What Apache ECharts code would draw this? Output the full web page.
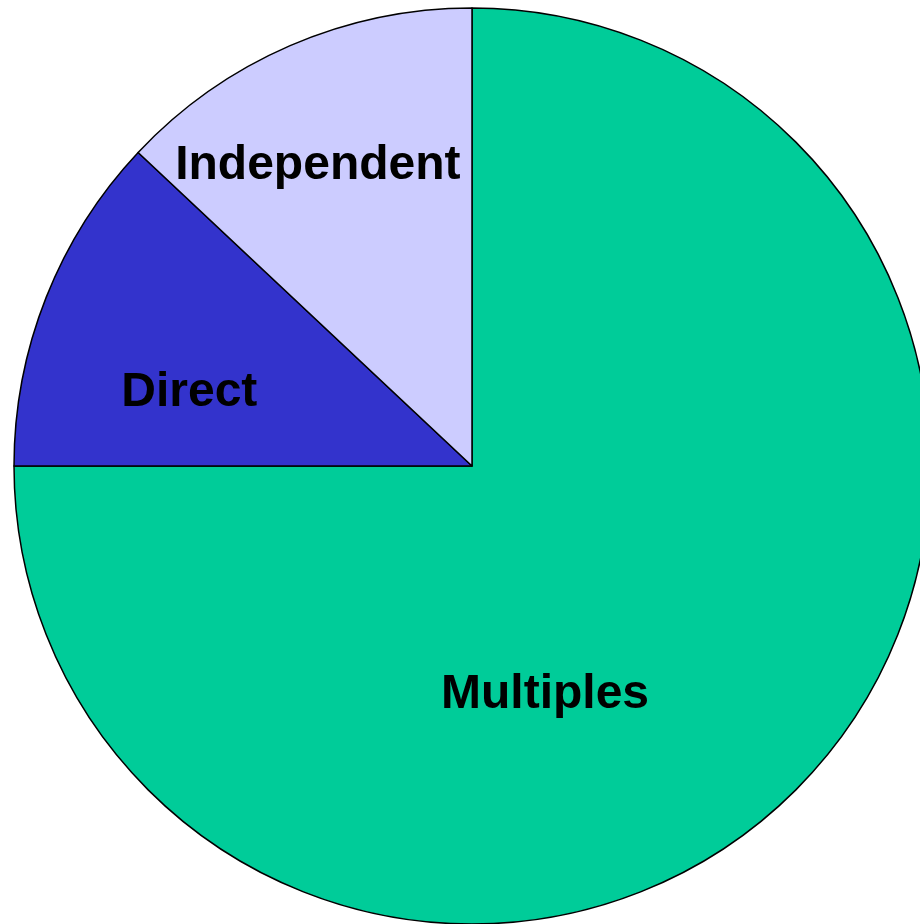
<!DOCTYPE html>
<html>
<head>
<meta charset="utf-8">
<script src="https://cdn.jsdelivr.net/npm/echarts@6/dist/echarts.min.js"></script>
<style>
  html, body { margin: 0; padding: 0; background: #fff; }
  #chart { width: 920px; height: 924px; }
</style>
</head>
<body>
<div id="chart"></div>
<script>
var categories = ['Multiples', 'Direct', 'Independent']
var values = [75, 12, 13]
var colors = ['#00CC99', '#3333CC', '#CCCCFF']

// nudge the inside labels to where the original drew them
var labelShift = [[-91, 65], [-67, 12], [-62, -87]]

var myChart = echarts.init(document.getElementById('chart'))
var option = {
  animation: false,
  series: [{
    type: 'pie',
    center: [472, 466],
    radius: 458,
    startAngle: 90,
    clockwise: true,
    avoidLabelOverlap: false,
    data: categories.map(function (name, i) {
      return { name: name, value: values[i], itemStyle: { color: colors[i] } }
    }),
    itemStyle: {
      borderColor: '#000',
      borderWidth: 1.5
    },
    label: {
      show: true,
      position: 'inside',
      formatter: '{b}',
      color: '#000',
      fontFamily: 'Liberation Sans, Arial, sans-serif',
      fontWeight: 'bold',
      fontSize: 48
    },
    labelLine: { show: false },
    labelLayout: function (params) {
      var s = labelShift[params.dataIndex]
      return { dx: s[0], dy: s[1] }
    },
    emphasis: { disabled: true }
  }]
}
myChart.setOption(option)
</script>
</body>
</html>
